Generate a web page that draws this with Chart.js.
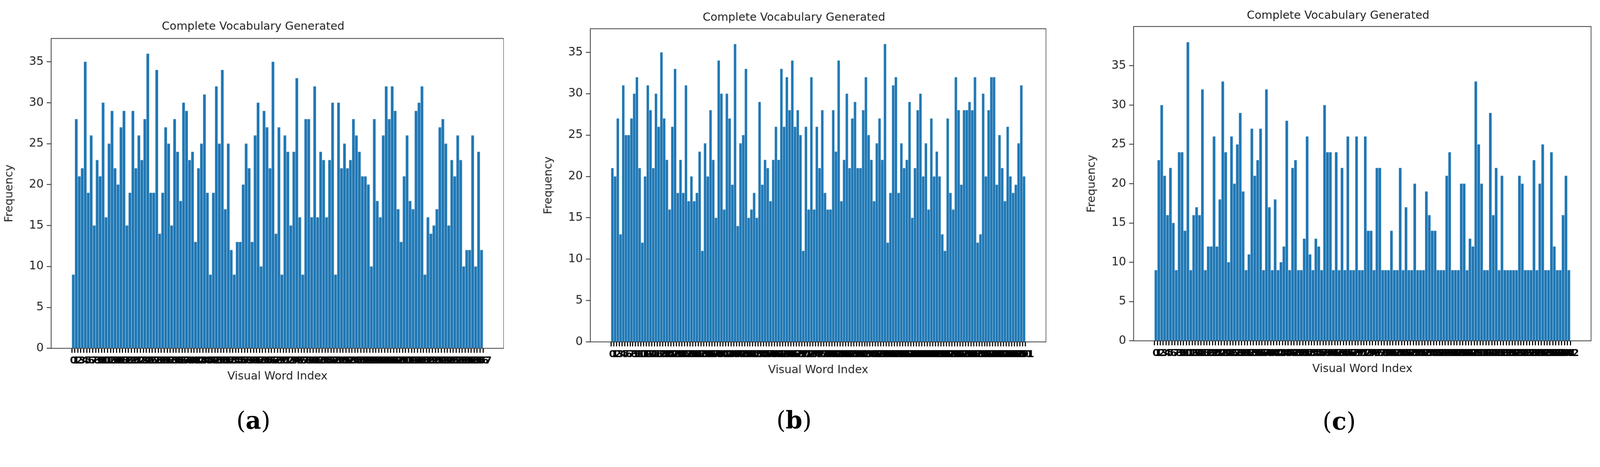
<!DOCTYPE html>
<html>
<head>
<meta charset="utf-8">
<script src="https://cdn.jsdelivr.net/npm/chart.js@4.4.1/dist/chart.umd.min.js"></script>
<style>
  html, body { margin: 0; background: #fff; overflow: hidden; }
  #page { position: absolute; left: 0; top: 0; width: 4288px; height: 1196px; transform-origin: 0 0; }
  .box { position: absolute; top: 0; }
  .cap { position: absolute; font-family: "DejaVu Serif", "Liberation Serif", serif; font-size: 64px; transform: translate(-50%, -50%); }
  .cap b { font-weight: bold; }
</style>
</head>
<body>
<div id="page">
  <div class="box" id="boxA"><canvas id="chartA"></canvas></div>
  <div class="box" id="boxB"><canvas id="chartB"></canvas></div>
  <div class="box" id="boxC"><canvas id="chartC"></canvas></div>
  <div class="cap" style="left:679px;top:1127px">(<b>a</b>)</div>
  <div class="cap" style="left:2128px;top:1126px">(<b>b</b>)</div>
  <div class="cap" style="left:3589px;top:1129px">(<b>c</b>)</div>
</div>
<script>
// Frequencies (left to right)
const freqA = [9,28,21,22,35,19,26,15,23,21,30,16,25,29,22,20,27,29,15,19,29,22,26,23,28,36,19,19,34,14,19,27,25,15,28,24,18,30,29,23,24,13,22,25,31,19,9,19,32,25,34,17,25,12,9,13,13,20,25,22,13,26,30,10,29,27,22,35,14,27,9,26,24,15,24,33,16,9,28,28,16,32,16,24,23,16,23,30,9,30,22,25,22,23,28,26,24,21,21,20,10,28,18,16,26,32,28,32,29,17,13,21,26,18,17,29,30,32,9,16,14,15,17,27,28,25,15,23,21,26,23,10,12,12,26,10,24,12];
const freqB = [21,20,27,13,31,25,25,27,30,32,21,12,20,31,28,21,30,26,35,27,22,16,26,33,18,22,18,31,17,20,17,18,23,11,24,20,28,22,15,34,30,16,30,27,19,36,14,24,25,33,15,16,18,15,29,19,22,21,17,22,26,22,33,26,32,28,34,26,28,25,11,26,16,32,16,26,21,28,18,16,16,28,23,34,17,22,30,21,27,29,21,21,28,32,25,22,17,24,27,22,36,12,18,31,32,18,24,21,22,29,15,21,28,30,20,24,16,27,20,23,20,13,11,27,18,16,32,28,19,28,28,29,28,32,12,13,30,20,28,32,32,19,25,21,17,26,20,18,19,24,31,20];
const freqC = [9,23,30,21,16,22,15,9,24,24,14,38,9,16,17,16,32,9,12,12,26,12,18,33,24,10,26,20,25,29,19,9,11,27,21,23,27,9,32,17,9,18,9,10,12,28,9,22,23,9,9,13,26,11,9,13,12,9,30,24,24,9,24,9,22,9,26,9,9,26,9,9,26,14,14,9,22,22,9,9,9,14,9,9,22,9,17,9,9,20,9,9,9,19,16,14,14,9,9,9,21,24,9,9,9,20,20,9,13,12,33,25,20,9,9,29,16,22,9,21,9,9,9,9,9,21,20,9,9,9,23,9,20,25,9,9,24,12,9,9,16,21,9];
const yTicks = [0, 5, 10, 15, 20, 25, 30, 35];

// panel geometry in page pixels (axes box)
const panels = [
  { id: "chartA", box: "boxA", data: freqA, left: 137, right: 1348, top: 103, bottom: 933, yMax: 37.85, titleTop: 54 },
  { id: "chartB", box: "boxB", data: freqB, left: 1582, right: 2802, top: 77, bottom: 916, yMax: 37.85, titleTop: 30 },
  { id: "chartC", box: "boxC", data: freqC, left: 3038, right: 4263, top: 71, bottom: 913, yMax: 40, titleTop: 24 },
];

const Y_W = 130, X_H = 96, TITLE_FS = 30;

// fit the 4288px layout into whatever viewport the page gets
const scale = window.innerWidth / 4288;
document.getElementById("page").style.transform = "scale(" + scale + ")";

const framePlugin = {
  id: "frame",
  afterDraw(chart) {
    const { ctx, chartArea: a } = chart;
    ctx.save();
    ctx.strokeStyle = "#333";
    ctx.lineWidth = 2;
    ctx.strokeRect(a.left, a.top, a.right - a.left, a.bottom - a.top);
    ctx.restore();
  },
};

panels.forEach((p) => {
  const box = document.getElementById(p.box);
  box.style.left = p.left - Y_W + "px";
  box.style.width = p.right - p.left + Y_W + 2 + "px";
  box.style.height = p.bottom + X_H + "px";

  const n = p.data.length;
  const pad = 0.047 * (n - 0.2);

  new Chart(document.getElementById(p.id), {
    type: "bar",
    data: {
      datasets: [{
        data: p.data.map((v, i) => ({ x: i, y: v })),
        backgroundColor: "#1f77b4",
        barPercentage: 0.9,
        categoryPercentage: 1,
      }],
    },
    options: {
      responsive: true,
      maintainAspectRatio: false,
      animation: false,
      devicePixelRatio: (window.devicePixelRatio || 1) * scale,
      layout: { padding: { right: 1 } },
      plugins: {
        legend: { display: false },
        tooltip: { enabled: false },
        title: {
          display: true,
          text: "Complete Vocabulary Generated",
          color: "#222",
          font: { family: "DejaVu Sans", size: TITLE_FS, weight: "normal" },
          padding: { top: p.titleTop, bottom: p.top - p.titleTop - TITLE_FS * 1.2 },
        },
      },
      scales: {
        x: {
          type: "linear",
          min: -0.4 - pad,
          max: n - 1 + 0.4 + pad,
          afterBuildTicks: (s) => { s.ticks = p.data.map((_, i) => ({ value: i })); },
          afterFit: (s) => { s.height = X_H; },
          ticks: { autoSkip: false, maxRotation: 0, minRotation: 0, color: "#000", font: { family: "DejaVu Sans", size: 26, weight: "bold" }, padding: 6 },
          grid: { drawOnChartArea: false, drawTicks: true, tickLength: 12, lineWidth: 3, color: "#000" },
          border: { display: false },
          title: { display: true, text: "Visual Word Index", color: "#222", font: { family: "DejaVu Sans", size: 30 }, padding: { top: 4, bottom: 2 } },
        },
        y: {
          min: 0,
          max: p.yMax,
          afterBuildTicks: (s) => { s.ticks = yTicks.map((v) => ({ value: v })); },
          afterFit: (s) => { s.width = Y_W; },
          ticks: { color: "#222", font: { family: "DejaVu Sans", size: 31 }, padding: 8 },
          grid: { drawOnChartArea: false, drawTicks: true, tickLength: 12, lineWidth: 2, color: "#222" },
          border: { display: false },
          title: { display: true, text: "Frequency", color: "#222", font: { family: "DejaVu Sans", size: 30 }, padding: { top: 0, bottom: 2 } },
        },
      },
    },
    plugins: [framePlugin],
  });
});
</script>
</body>
</html>
